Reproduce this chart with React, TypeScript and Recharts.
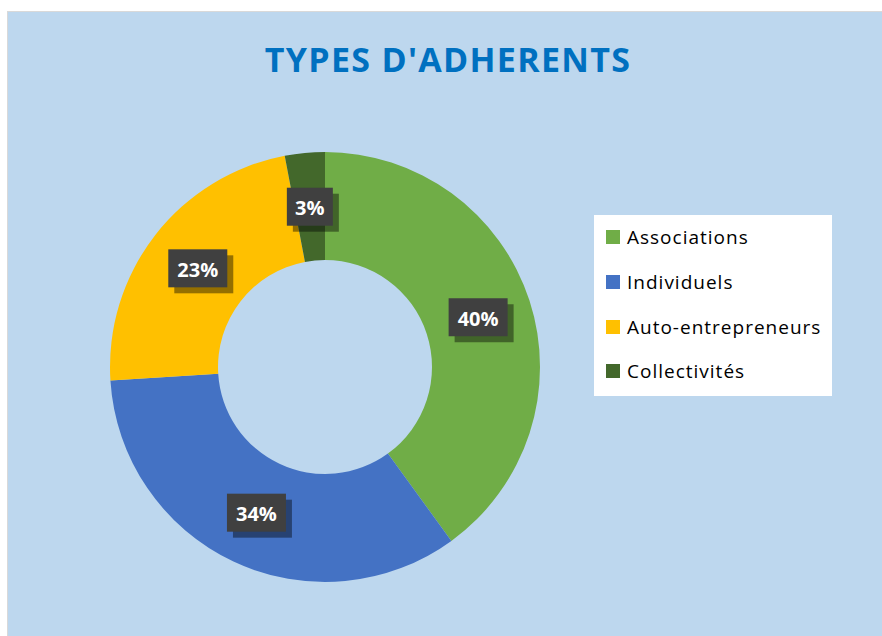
import { PieChart, Pie, Cell, Legend } from "recharts";

const categories = ["Associations", "Individuels", "Auto-entrepreneurs", "Collectivités"];
const shares = [40, 34, 23, 3];
const colors = ["#70AD47", "#4472C4", "#FFC000", "#43682B"];

const data = categories.map((name, i) => ({ name, value: shares[i] }));

const RADIAN = Math.PI / 180;

const renderLabel = ({ cx, cy, midAngle, innerRadius, outerRadius, value }: any) => {
  const r = (innerRadius + outerRadius) / 2;
  const x = cx + r * Math.cos(-midAngle * RADIAN);
  const y = cy + r * Math.sin(-midAngle * RADIAN);
  const text = `${value}%`;
  const w = text.length * 13 + 20;
  const h = 38;
  return (
    <g>
      <rect x={x - w / 2 + 6} y={y - h / 2 + 6} width={w} height={h} fill="rgba(0,0,0,0.42)" />
      <rect x={x - w / 2} y={y - h / 2} width={w} height={h} fill="#404040" />
      <text
        x={x}
        y={y + 1}
        fill="#fff"
        textAnchor="middle"
        dominantBaseline="central"
        fontFamily="Open Sans"
        fontWeight="bold"
        fontSize={20}
      >
        {text}
      </text>
    </g>
  );
};

const renderLegend = () => (
  <div
    style={{
      background: "#fff",
      width: 238,
      height: 181,
      boxSizing: "border-box",
      padding: "0 0 0 12px",
      fontFamily: "Open Sans",
      fontSize: 19,
      letterSpacing: 1,
      color: "#000",
    }}
  >
    {categories.map((c, i) => (
      <div key={c} style={{ display: "flex", alignItems: "center", height: 44.7 }}>
        <span style={{ width: 14, height: 14, background: colors[i], marginRight: 7, display: "inline-block" }} />
        <span>{c}</span>
      </div>
    ))}
  </div>
);

export default function App() {
  return (
    <div
      style={{
        position: "absolute",
        left: 7,
        top: 11,
        width: 880,
        height: 630,
        border: "1px solid #D9D9D9",
        background: "#BDD7EE",
        overflow: "hidden",
      }}
    >
      <div
        style={{
          position: "absolute",
          left: 0,
          top: 24,
          width: 880,
          textAlign: "center",
          fontFamily: "Open Sans",
          fontWeight: "bold",
          fontSize: 34,
          letterSpacing: 1.3,
          color: "#0070C0",
        }}
      >
        TYPES D'ADHERENTS
      </div>
      <PieChart width={880} height={630} margin={{ top: 0, right: 0, bottom: 0, left: 0 }}>
        <Pie
          data={data}
          dataKey="value"
          nameKey="name"
          cx={317}
          cy={355}
          innerRadius={107}
          outerRadius={215}
          startAngle={90}
          endAngle={-270}
          stroke="none"
          label={renderLabel}
          labelLine={false}
          isAnimationActive={false}
        >
          {data.map((d, i) => (
            <Cell key={d.name} fill={colors[i]} />
          ))}
        </Pie>
        <Legend
          content={renderLegend}
          wrapperStyle={{ position: "absolute", left: 586, top: 203, width: 238 }}
        />
      </PieChart>
    </div>
  );
}
